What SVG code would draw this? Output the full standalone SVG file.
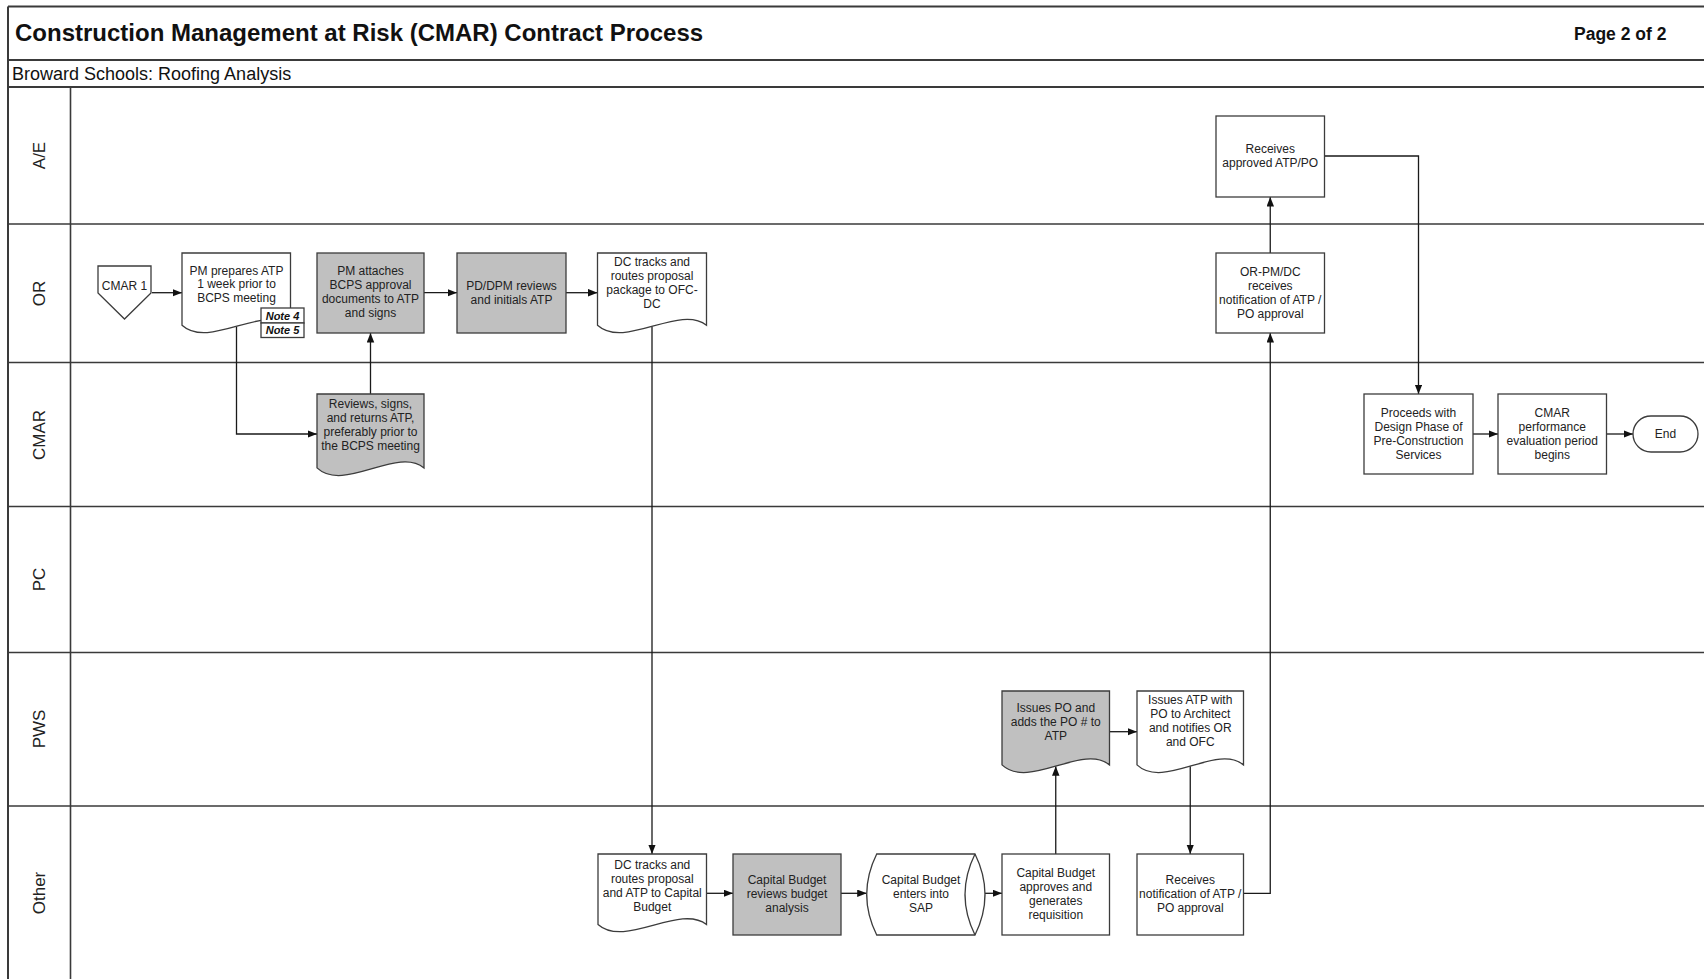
<svg xmlns="http://www.w3.org/2000/svg" width="1704" height="979" viewBox="0 0 1704 979">
<defs>
<marker id="arr" markerUnits="userSpaceOnUse" markerWidth="10" markerHeight="8" refX="9.5" refY="3.75" orient="auto">
<path d="M0,0 L9.5,3.75 L0,7.5 Z" fill="#111"/>
</marker>
<style>
.frame{stroke:#3a3a3a;stroke-width:2;fill:none}
.lane{stroke:#3a3a3a;stroke-width:1.6;fill:none}
.n{fill:#fff;stroke:#3c3c3c;stroke-width:1.3}
.g{fill:#c0c0c0;stroke:#3c3c3c;stroke-width:1.3}
.t{font-family:"Liberation Sans",Arial,sans-serif;font-size:12px;fill:#222;text-anchor:middle}
.lbl{font-family:"Liberation Sans",Arial,sans-serif;font-size:17px;fill:#222;text-anchor:middle}
.note{font-family:"Liberation Sans",Arial,sans-serif;font-size:11px;font-weight:bold;font-style:italic;fill:#111;text-anchor:middle}
.c{fill:none;stroke:#1a1a1a;stroke-width:1.3;marker-end:url(#arr)}
</style>
</defs>
<rect x="0" y="0" width="1704" height="979" fill="#fff"/>

<g id="frame">
<line class="frame" x1="8" y1="6.5" x2="1704" y2="6.5"/>
<line class="frame" x1="8" y1="60" x2="1704" y2="60"/>
<line class="frame" x1="8" y1="87" x2="1704" y2="87"/>
<line class="frame" x1="8" y1="6.5" x2="8" y2="979"/>
<line class="lane" x1="70.5" y1="87" x2="70.5" y2="979"/>
<line class="lane" x1="8" y1="224" x2="1704" y2="224"/>
<line class="lane" x1="8" y1="362.5" x2="1704" y2="362.5"/>
<line class="lane" x1="8" y1="506.5" x2="1704" y2="506.5"/>
<line class="lane" x1="8" y1="652.5" x2="1704" y2="652.5"/>
<line class="lane" x1="8" y1="806" x2="1704" y2="806"/>
<text x="15" y="41" font-family="Liberation Sans,Arial,sans-serif" font-size="24" font-weight="bold" fill="#111">Construction Management at Risk (CMAR) Contract Process</text>
<text x="1574" y="40" font-family="Liberation Sans,Arial,sans-serif" font-size="17.5" font-weight="bold" fill="#111">Page 2 of 2</text>
<text x="12" y="79.5" font-family="Liberation Sans,Arial,sans-serif" font-size="18" fill="#111">Broward Schools: Roofing Analysis</text>
<text class="lbl" transform="translate(39,155.5) rotate(-90)" y="6">A/E</text>
<text class="lbl" transform="translate(39,293.5) rotate(-90)" y="6">OR</text>
<text class="lbl" transform="translate(39,435) rotate(-90)" y="6">CMAR</text>
<text class="lbl" transform="translate(39,579.5) rotate(-90)" y="6">PC</text>
<text class="lbl" transform="translate(39,729) rotate(-90)" y="6">PWS</text>
<text class="lbl" transform="translate(39,893) rotate(-90)" y="6">Other</text>
</g>

<g id="connectors">
<path class="c" d="M152,292.7 H182"/>
<path class="c" d="M236.5,326.4 V434 H317"/>
<path class="c" d="M370.5,394 V333"/>
<path class="c" d="M424,292.7 H457"/>
<path class="c" d="M566,292.7 H597.5"/>
<path class="c" d="M652,326.4 V854"/>
<path class="c" d="M706.5,893.3 H733"/>
<path class="c" d="M841,893.3 H866.7"/>
<path class="c" d="M985,893.3 H1002"/>
<path class="c" d="M1055.75,854 V766.2"/>
<path class="c" d="M1109.5,731.7 H1137"/>
<path class="c" d="M1190.25,766.2 V854"/>
<path class="c" d="M1243.5,893.3 H1270.25 V333"/>
<path class="c" d="M1270.25,253 V197"/>
<path class="c" d="M1324.5,156 H1418.5 V394"/>
<path class="c" d="M1473,434 H1498"/>
<path class="c" d="M1606.5,434 H1633"/>
</g>

<g id="cmar1">
<path class="n" d="M98,266 H151 V293 L124.5,319 L98,293 Z"/>
<text class="t" x="124.5" y="289.5">CMAR 1</text>
</g>

<g id="pm-prepares">
<path class="n" d="M182,253 H290.5 V325.2 C263.4,303.8 209.1,349.8 182,325.2 Z"/>
<text class="t" x="236.5" y="275"><tspan x="236.5">PM prepares ATP</tspan><tspan x="236.5" dy="13.3">1 week prior to</tspan><tspan x="236.5" dy="13.3">BCPS meeting</tspan></text>
</g>

<g id="note4">
<rect class="n" x="261" y="308" width="43" height="15"/>
<text class="note" x="282.5" y="319.5">Note 4</text>
</g>
<g id="note5">
<rect class="n" x="261" y="323" width="43" height="14.5"/>
<text class="note" x="282.5" y="334">Note 5</text>
</g>

<g id="pm-attaches">
<rect class="g" x="317" y="253" width="107" height="80"/>
<text class="t" x="370.5" y="275.2"><tspan x="370.5">PM attaches</tspan><tspan x="370.5" dy="14">BCPS approval</tspan><tspan x="370.5" dy="14">documents to ATP</tspan><tspan x="370.5" dy="14">and signs</tspan></text>
</g>

<g id="pd-dpm">
<rect class="g" x="457" y="253" width="109" height="80"/>
<text class="t" x="511.5" y="289.7"><tspan x="511.5">PD/DPM reviews</tspan><tspan x="511.5" dy="14">and initials ATP</tspan></text>
</g>

<g id="dc-tracks-or">
<path class="n" d="M597.5,253 H706.5 V325.2 C679.25,303.8 624.75,349.8 597.5,325.2 Z"/>
<text class="t" x="652" y="266"><tspan x="652">DC tracks and</tspan><tspan x="652" dy="14">routes proposal</tspan><tspan x="652" dy="14">package to OFC-</tspan><tspan x="652" dy="14">DC</tspan></text>
</g>

<g id="ae-receives">
<rect class="n" x="1216" y="116" width="108.5" height="81"/>
<text class="t" x="1270.25" y="153.2"><tspan x="1270.25">Receives</tspan><tspan x="1270.25" dy="14">approved ATP/PO</tspan></text>
</g>

<g id="or-pm-dc">
<rect class="n" x="1216" y="253" width="108.5" height="80"/>
<text class="t" x="1270.25" y="276"><tspan x="1270.25">OR-PM/DC</tspan><tspan x="1270.25" dy="14">receives</tspan><tspan x="1270.25" dy="14">notification of ATP /</tspan><tspan x="1270.25" dy="14">PO approval</tspan></text>
</g>

<g id="reviews-signs">
<path class="g" d="M317,394 H424 V467.9 C397.25,446.1 343.75,493.1 317,467.9 Z"/>
<text class="t" x="370.5" y="407.5"><tspan x="370.5">Reviews, signs,</tspan><tspan x="370.5" dy="14.2">and returns ATP,</tspan><tspan x="370.5" dy="14.2">preferably prior to</tspan><tspan x="370.5" dy="14.2">the BCPS meeting</tspan></text>
</g>

<g id="proceeds">
<rect class="n" x="1364" y="394" width="109" height="80"/>
<text class="t" x="1418.5" y="417"><tspan x="1418.5">Proceeds with</tspan><tspan x="1418.5" dy="14">Design Phase of</tspan><tspan x="1418.5" dy="14">Pre-Construction</tspan><tspan x="1418.5" dy="14">Services</tspan></text>
</g>

<g id="cmar-perf">
<rect class="n" x="1498" y="394" width="108.5" height="80"/>
<text class="t" x="1552.25" y="417"><tspan x="1552.25">CMAR</tspan><tspan x="1552.25" dy="14">performance</tspan><tspan x="1552.25" dy="14">evaluation period</tspan><tspan x="1552.25" dy="14">begins</tspan></text>
</g>

<g id="end">
<rect class="n" x="1633" y="416" width="65" height="36" rx="18" ry="18"/>
<text class="t" x="1665.5" y="438.2">End</text>
</g>

<g id="issues-po">
<path class="g" d="M1002,691 H1109.5 V764.9 C1082.6,743.1 1028.9,790.1 1002,764.9 Z"/>
<text class="t" x="1055.75" y="711.5"><tspan x="1055.75">Issues PO and</tspan><tspan x="1055.75" dy="14">adds the PO # to</tspan><tspan x="1055.75" dy="14">ATP</tspan></text>
</g>

<g id="issues-atp">
<path class="n" d="M1137,691 H1243.5 V764.9 C1216.9,743.1 1163.6,790.1 1137,764.9 Z"/>
<text class="t" x="1190.25" y="704.2"><tspan x="1190.25">Issues ATP with</tspan><tspan x="1190.25" dy="14">PO to Architect</tspan><tspan x="1190.25" dy="14">and notifies OR</tspan><tspan x="1190.25" dy="14">and OFC</tspan></text>
</g>

<g id="dc-tracks-other">
<path class="n" d="M598,854 H706.5 V924.4 C679.4,903.6 625.1,948.4 598,924.4 Z"/>
<text class="t" x="652.25" y="869.2"><tspan x="652.25">DC tracks and</tspan><tspan x="652.25" dy="14">routes proposal</tspan><tspan x="652.25" dy="14">and ATP to Capital</tspan><tspan x="652.25" dy="14">Budget</tspan></text>
</g>

<g id="cb-reviews">
<rect class="g" x="733" y="854" width="108" height="81"/>
<text class="t" x="787" y="884.2"><tspan x="787">Capital Budget</tspan><tspan x="787" dy="14">reviews budget</tspan><tspan x="787" dy="14">analysis</tspan></text>
</g>

<g id="cb-sap">
<path class="n" d="M876.7,854 H975 Q995,894.5 975,935 H876.7 Q856.7,894.5 876.7,854 Z"/>
<path class="n" d="M975,854 Q955,894.5 975,935" fill="none"/>
<text class="t" x="921" y="884.2"><tspan x="921">Capital Budget</tspan><tspan x="921" dy="14">enters into</tspan><tspan x="921" dy="14">SAP</tspan></text>
</g>

<g id="cb-approves">
<rect class="n" x="1002" y="854" width="107.5" height="81"/>
<text class="t" x="1055.75" y="877.2"><tspan x="1055.75">Capital Budget</tspan><tspan x="1055.75" dy="14">approves and</tspan><tspan x="1055.75" dy="14">generates</tspan><tspan x="1055.75" dy="14">requisition</tspan></text>
</g>

<g id="receives-notification">
<rect class="n" x="1137" y="854" width="106.5" height="81"/>
<text class="t" x="1190.25" y="884.2"><tspan x="1190.25">Receives</tspan><tspan x="1190.25" dy="14">notification of ATP /</tspan><tspan x="1190.25" dy="14">PO approval</tspan></text>
</g>
</svg>
